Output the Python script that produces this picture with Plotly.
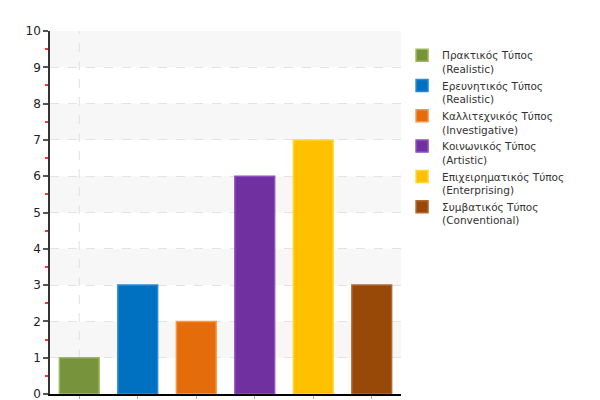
import plotly.graph_objects as go

categories = ["Πρακτικός Τύπος<br>(Realistic)",
              "Ερευνητικός Τύπος<br>(Realistic)",
              "Καλλιτεχνικός Τύπος<br>(Investigative)",
              "Κοινωνικός Τύπος<br>(Artistic)",
              "Επιχειρηματικός Τύπος<br>(Enterprising)",
              "Συμβατικός Τύπος<br>(Conventional)"]
values = [1, 3, 2, 6, 7, 3]
fill_colors = ["#77933c", "#0070c0", "#e46c0a", "#7030a0", "#ffc000", "#984807"]
line_colors = ["#9bbb59", "#2a8ad6", "#f79646", "#8e4fc0", "#ffd632", "#b06a30"]
y_ticks = list(range(0, 11))

fig = go.Figure()
for i, (name, v) in enumerate(zip(categories, values)):
    fig.add_trace(go.Bar(
        x=[i], y=[v], name=name, width=0.68,
        marker=dict(color=fill_colors[i], line=dict(color=line_colors[i], width=1.5)),
        hoverinfo="skip",
    ))

# alternating background bands
for k in y_ticks[:-1]:
    if k % 2 == 1:
        fig.add_shape(type="rect", xref="paper", yref="y", x0=0, x1=1, y0=k, y1=k + 1,
                      fillcolor="#f7f7f7", line_width=0, layer="below")

fig.add_shape(type="line", xref="x", yref="paper", x0=0, x1=0, y0=0, y1=1,
              line=dict(color="#e0e0e0", width=1, dash="dash"), layer="below")

fig.update_layout(
    width=600, height=400,
    margin=dict(l=42, r=207, t=23, b=14),
    paper_bgcolor="white", plot_bgcolor="white",
    barmode="overlay",
    font=dict(family="DejaVu Sans, Verdana, sans-serif", color="#222"),
    showlegend=True,
    legend=dict(x=1.003, y=0.97, xanchor="left", yanchor="top",
                font=dict(size=10.5, color="#333"), valign="top",
                tracegroupgap=0, itemwidth=30),
    xaxis=dict(range=[-0.5, 5.5], showticklabels=False, showgrid=False, zeroline=False,
               showline=True, linecolor="#000", linewidth=1.5, automargin=False,
               tickmode="array", tickvals=list(range(len(categories))),
               ticks="outside", ticklen=3, tickcolor="#aaa", fixedrange=True),
    yaxis=dict(range=[0, 10], tickvals=y_ticks, ticks="outside", ticklen=5,
               tickcolor="#555", tickwidth=1.5, automargin=False,
               ticklabeloverflow="allow",
               showline=True, linecolor="#333", linewidth=1.5,
               showgrid=True, gridcolor="#e3e3e3", griddash="dash", gridwidth=1,
               zeroline=False, tickfont=dict(size=12, color="#222"),
               minor=dict(dtick=0.5, ticks="outside", ticklen=3, tickcolor="#ff3333",
                          showgrid=False)),
)
fig.write_html("out.html")
